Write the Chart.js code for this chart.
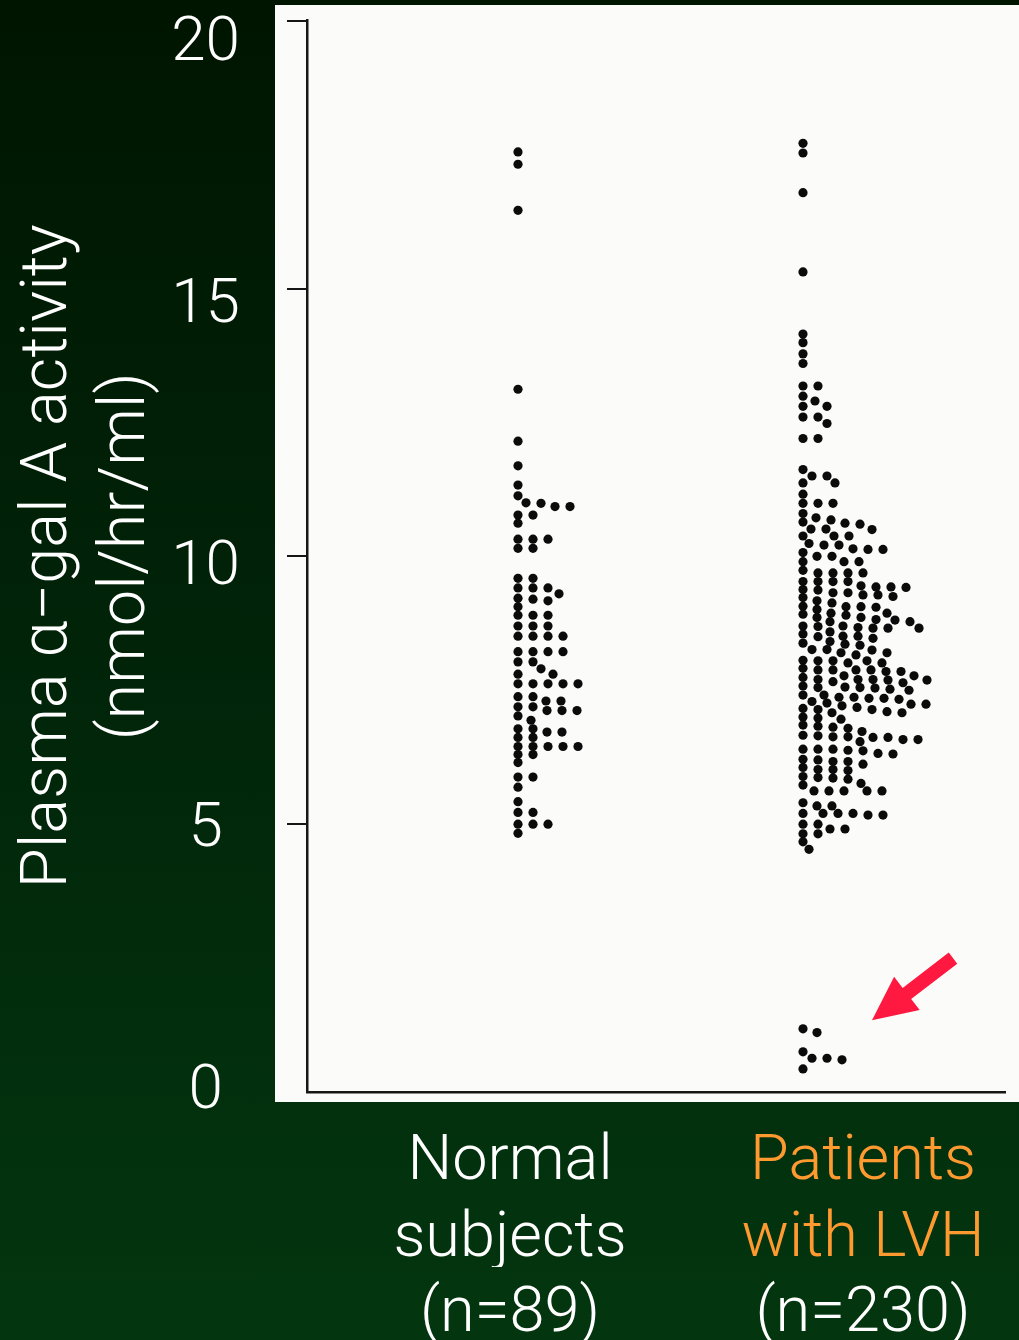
<!DOCTYPE html>
<html lang="en">
<head>
<meta charset="UTF-8">
<title>Plasma α-gal A activity</title>
<script src="https://cdn.jsdelivr.net/npm/chart.js"></script>
<style>
  html, body { margin: 0; padding: 0; }
  body {
    width: 1019px;
    height: 1340px;
    overflow: hidden;
    background: linear-gradient(to bottom, #001500 0%, #01260a 55%, #03360f 100%);
  }
  canvas { display: block; }
</style>
</head>
<body>
<canvas id="chart" width="1019" height="1340"></canvas>
<script>
// --- data (nmol/hr/ml) ---
const groupNames = ['Normal subjects', 'Patients with LVH'];
const groupCounts = ['(n=89)', '(n=230)'];
const yTicks = [0, 5, 10, 15, 20];

const normalActivity = [
  17.55, 17.32, 16.46, 13.12, 12.15,
  11.69, 11.33, 11.13, 11.0, 10.99, 10.93, 10.93,
  10.77, 10.77, 10.62, 10.32, 10.32, 10.32, 10.15, 10.15,
  9.59, 9.59, 9.41, 9.41, 9.41, 9.3, 9.22, 9.2, 9.17, 9.06,
  8.9, 8.9, 8.9, 8.7, 8.7, 8.7, 8.51, 8.51, 8.51, 8.51,
  8.22, 8.22, 8.22, 8.22, 8.03, 8.03, 7.9, 7.8, 7.8,
  7.62, 7.62, 7.62, 7.62, 7.62, 7.38, 7.38, 7.3, 7.3,
  7.19, 7.19, 7.12, 7.12, 7.12, 7.02, 6.94,
  6.78, 6.78, 6.72, 6.72, 6.62, 6.62,
  6.45, 6.45, 6.45, 6.45, 6.45, 6.3, 6.3, 6.15,
  5.88, 5.88, 5.69, 5.42, 5.22, 5.22, 5.0, 5.0, 5.0, 4.83
];

const lvhUpper = [
  17.71, 17.53, 16.79, 15.31, 14.15, 13.99, 13.78, 13.6,
  13.18, 13.18, 12.99, 12.9, 12.8, 12.8, 12.6, 12.6, 12.48, 12.2, 12.2,
  11.62, 11.5, 11.5, 11.37, 11.37, 11.16, 10.99, 10.99, 10.99,
  10.8, 10.72, 10.68, 10.64, 10.62, 10.6, 10.5, 10.51, 10.51,
  10.38, 10.38, 10.38, 10.24, 10.21, 10.21, 10.14, 10.13, 10.13,
  10.07, 10.0, 10.0, 9.9, 9.9, 9.9, 9.74, 9.69, 9.69, 9.69, 9.69
];

const lvhMiddle = [
  9.42, 9.53, 9.38, 9.53, 9.53, 9.53, 9.43, 9.43, 9.45, 9.37,
  9.23, 9.25, 9.32, 9.32, 9.28, 9.28,
  9.13, 9.17, 9.07, 9.05, 9.06, 9.06, 9.01,
  8.94, 8.94, 8.92, 8.9,
  8.78, 8.82, 8.78, 8.86, 8.86, 8.81,
  8.7, 8.66, 8.69, 8.66, 8.7, 8.67, 8.66,
  8.59, 8.55, 8.51, 8.5, 8.47, 8.51,
  8.41, 8.36, 8.38,
  8.26, 8.34, 8.25, 8.2, 8.2, 8.26, 8.16,
  8.05, 8.06, 8.05, 8.01, 8.01, 8.05,
  7.88, 7.88, 7.91, 7.85, 7.85, 7.88, 7.88,
  7.7, 7.7, 7.7, 7.69, 7.64, 7.74, 7.66, 7.69, 7.77, 7.77,
  7.56, 7.55, 7.55, 7.54, 7.52, 7.5, 7.58
];

const lvhLower = [
  7.33, 7.24, 7.24, 7.26, 7.35, 7.35, 7.41, 7.37, 7.41, 7.37, 7.29,
  7.08, 7.08, 7.16, 7.14, 7.14, 7.18, 7.21, 7.1,
  6.98, 6.96, 7.0, 6.79, 6.81, 6.85, 6.83, 6.73,
  6.58, 6.58, 6.54, 6.62, 6.62, 6.63, 6.66, 6.65, 6.63,
  6.38, 6.4, 6.37, 6.4, 6.32, 6.4, 6.31,
  6.2, 6.21, 6.17, 6.17, 6.12, 6.02, 6.02, 6.0, 6.06,
  5.86, 5.84, 5.89, 5.87, 5.76, 5.73,
  5.62, 5.62, 5.62, 5.62, 5.62, 5.4, 5.34, 5.34,
  5.17, 5.17, 5.2, 5.2, 5.2, 5.2, 5.0, 5.0, 4.91, 4.91,
  4.82, 4.82, 4.67, 4.53
];

// the low outliers the arrow points at
const lvhOutliers = [1.18, 1.11, 0.75, 0.63, 0.63, 0.6, 0.43];

const lvhActivity = lvhUpper.concat(lvhMiddle, lvhLower, lvhOutliers);

// --- layout ---
const X_SPAN = 698;            // x axis runs in pixels of the plot box
const dotBase = [211, 496];    // left column of each swarm
const labelAt = [203, 556];    // centre of category labels
const arrowFrom = [646, 2.5];
const arrowTo = [565, 1.34];
const GAP_X = 15, GAP_Y = 8;
const WHITE = '#ffffff', ORANGE = '#ff9a30', INK = '#161616';
const sans = 'Roboto, "Liberation Sans", Arial, sans-serif';

const panel = {
  id: 'panel',
  beforeDraw(chart) {
    const { ctx, chartArea } = chart;
    const l = chartArea.left - 32;
    ctx.save();
    ctx.fillStyle = '#fbfbfa';
    ctx.fillRect(l, 5, chart.width - l, chartArea.bottom + 10 - 5);
    ctx.restore();
  }
};

const arrow = {
  id: 'arrow',
  afterDatasetsDraw(chart) {
    const { ctx, scales: { x, y } } = chart;
    const x0 = x.getPixelForValue(arrowFrom[0]), y0 = y.getPixelForValue(arrowFrom[1]);
    const x1 = x.getPixelForValue(arrowTo[0]), y1 = y.getPixelForValue(arrowTo[1]);
    const len = Math.hypot(x1 - x0, y1 - y0);
    const head = 44, half = 21, shaft = 7;
    ctx.save();
    ctx.translate(x1, y1);
    ctx.rotate(Math.atan2(y1 - y0, x1 - x0));
    ctx.beginPath();
    ctx.moveTo(0, 0);
    ctx.lineTo(-head, -half);
    ctx.lineTo(-head, -shaft);
    ctx.lineTo(-len, -shaft);
    ctx.lineTo(-len, shaft);
    ctx.lineTo(-head, shaft);
    ctx.lineTo(-head, half);
    ctx.closePath();
    ctx.fillStyle = '#ff1840';
    ctx.fill();
    ctx.restore();
  }
};

function noPad(scale) {
  scale.paddingLeft = scale.paddingRight = scale.paddingTop = scale.paddingBottom = 0;
}

const chart = new Chart(document.getElementById('chart'), {
  type: 'scatter',
  data: {
    datasets: [normalActivity, lvhActivity].map((vals, i) => ({
      label: groupNames[i],
      data: vals.map(v => ({ x: dotBase[i], y: v })),
      xAxisID: 'x',
      yAxisID: 'y',
      pointRadius: 4.6,
      pointHoverRadius: 4.6,
      pointBorderWidth: 0,
      pointBackgroundColor: '#0b0b0b'
    }))
  },
  options: {
    responsive: false,
    animation: false,
    devicePixelRatio: 1,
    layout: { padding: { left: 0, top: 20.7, right: 14, bottom: 0 } },
    plugins: { legend: { display: false }, tooltip: { enabled: false } },
    scales: {
      x: {
        type: 'linear', position: 'bottom', weight: 0,
        min: 0, max: X_SPAN,
        grid: { display: false },
        border: { color: INK, width: 2.5 },
        afterBuildTicks: s => { s.ticks = labelAt.map(v => ({ value: v })); },
        afterFit: s => { s.height = 175; noPad(s); },
        ticks: {
          autoSkip: false, maxRotation: 0, padding: 25,
          font: { family: sans, size: 63, weight: 300, lineHeight: 1.22 },
          color: c => (c.index === 1 ? ORANGE : WHITE),
          callback: (v, i) => {
            const w = groupNames[i].split(' ');
            return i === 0 ? [w[0], w[1]] : [w[0], w.slice(1).join(' ')];
          }
        }
      },
      x2: {
        type: 'linear', position: 'bottom', weight: 1,
        min: 0, max: X_SPAN,
        grid: { display: false },
        border: { display: false },
        afterBuildTicks: s => { s.ticks = labelAt.map(v => ({ value: v })); },
        afterFit: s => { s.height = 73; noPad(s); },
        ticks: {
          autoSkip: false, maxRotation: 0, padding: 2,
          font: { family: sans, size: 63, weight: 300, lineHeight: 1.22 },
          color: WHITE,
          callback: (v, i) => groupCounts[i]
        }
      },
      y: {
        type: 'linear', position: 'left', weight: 0,
        min: 0, max: 20,
        afterBuildTicks: s => { s.ticks = yTicks.map(v => ({ value: v })); },
        afterFit: s => { s.width = 20; noPad(s); },
        ticks: { display: false },
        grid: {
          drawOnChartArea: false, drawTicks: true, tickLength: 20, lineWidth: 2,
          color: c => (c.tick && c.tick.value === 0 ? 'rgba(0,0,0,0)' : INK)
        },
        border: { color: INK, width: 2.5 }
      },
      y2: {
        type: 'linear', position: 'left', weight: 1,
        min: 0, max: 20.46,
        afterBuildTicks: s => { s.ticks = yTicks.map(v => ({ value: v })); },
        afterFit: s => { s.width = 287; noPad(s); },
        grid: { display: false },
        border: { display: false },
        ticks: {
          crossAlign: 'center', padding: 39, color: WHITE,
          font: { family: sans, size: 62, weight: 300 }
        },
        title: {
          display: true,
          text: ['Plasma α−gal A activity', '(nmol/hr/ml)'],
          color: WHITE,
          font: { family: sans, size: 65, weight: 300, lineHeight: 1.2 },
          padding: { top: 11, bottom: 0 }
        }
      }
    }
  },
  plugins: [panel, arrow]
});

// one-sided beeswarm: each dot goes to the leftmost free slot in its column
function swarm(values, base) {
  const xs = chart.scales.x, ys = chart.scales.y;
  const x0 = xs.getPixelForValue(base);
  const placed = [];
  return values.slice().sort((a, b) => b - a).map(v => {
    const py = ys.getPixelForValue(v);
    let dx = 0;
    while (placed.some(p => ((p.dx - dx) / GAP_X) ** 2 + ((p.py - py) / GAP_Y) ** 2 < 1)) dx++;
    placed.push({ dx, py });
    return { x: xs.getValueForPixel(x0 + dx), y: v };
  });
}

chart.data.datasets[0].data = swarm(normalActivity, dotBase[0]);
chart.data.datasets[1].data = swarm(lvhActivity, dotBase[1]);
chart.update('none');
</script>
</body>
</html>
